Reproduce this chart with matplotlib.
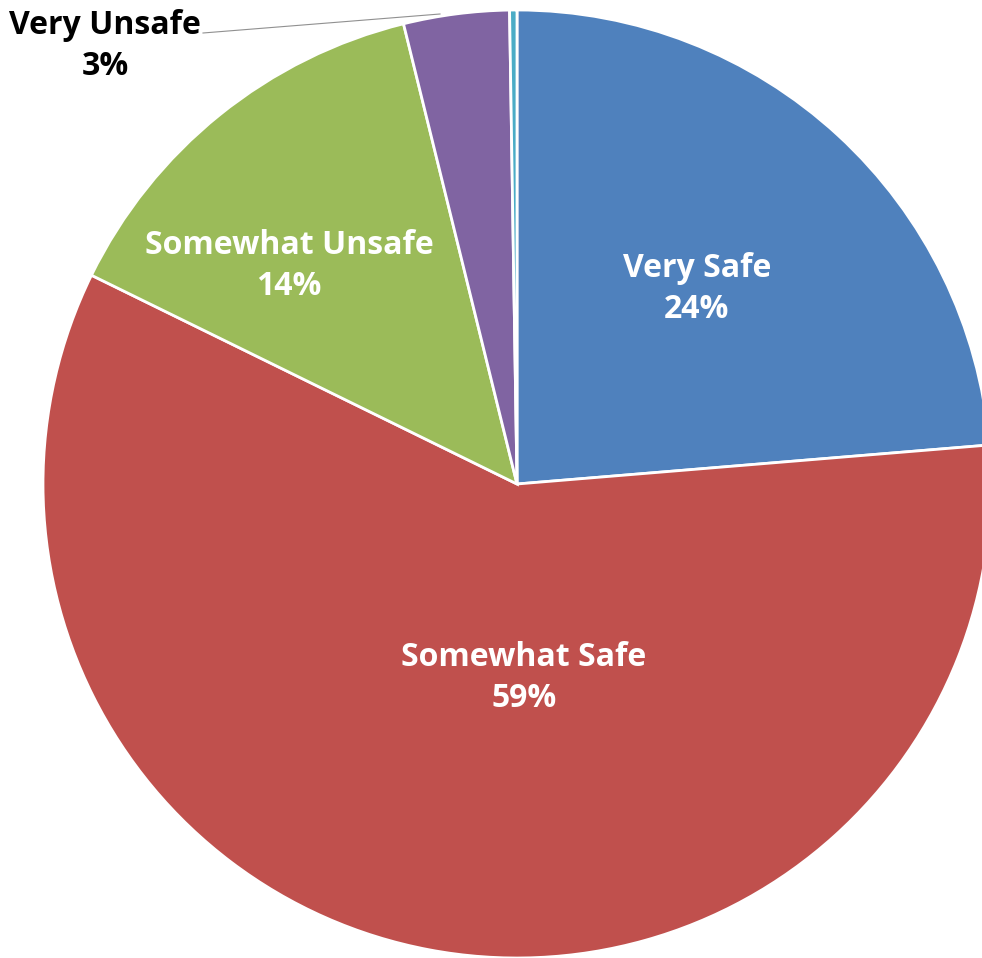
import matplotlib.pyplot as plt

categorias = ['Very Safe', 'Somewhat Safe', 'Somewhat Unsafe', 'Very Unsafe', 'Other']
valores = [23.7, 58.6, 13.9, 3.6, 0.25]
etiquetas_pct = ['24%', '59%', '14%', '3%', '']
colores = ['#4F81BD', '#C0504D', '#9BBB59', '#8064A2', '#4BACC6']

# posiciones de las etiquetas en pixeles (x, y desde arriba)
pos_etiquetas = [(697, 289), (524, 678), (289, 266), (105, 46), None]
color_texto = ['white', 'white', 'white', 'black', None]

W, H = 982, 958
CENTRO = (517, H - 484)
RADIO = 474

fig = plt.figure(figsize=(W / 100, H / 100), dpi=100)
ax = fig.add_axes([0, 0, 1, 1])

ax.pie(valores, colors=colores, startangle=90, counterclock=False,
       center=CENTRO, radius=RADIO, frame=True,
       wedgeprops={'edgecolor': 'white', 'linewidth': 2})
ax.set_xlim(0, W)
ax.set_ylim(0, H)
ax.set_aspect('equal')
ax.axis('off')

for cat, pct, pos, col in zip(categorias, etiquetas_pct, pos_etiquetas, color_texto):
    if pos is None:
        continue
    ax.text(pos[0], H - pos[1], f'{cat}\n{pct}', ha='center', va='center',
            color=col, fontsize=23, fontweight='bold', family='Open Sans',
            linespacing=1.3)

# linea guia de "Very Unsafe"
ax.plot([203, 440], [H - 33, H - 14], color='#909090', linewidth=0.8)

fig.savefig('out.png', dpi=100)
